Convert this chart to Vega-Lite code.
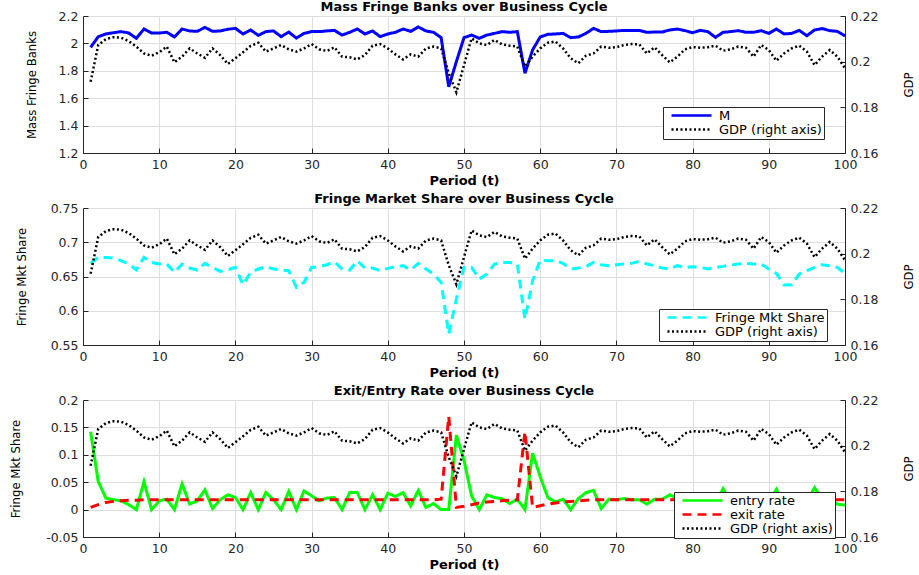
{
"$schema": "https://vega.github.io/schema/vega-lite/v6.json",
"background": "white",
"padding": {"left": 8, "top": 0, "right": 0, "bottom": 0},
"spacing": 55,
"bounds": "flush",
"datasets": {"d": [
{"t":1,"M":1.971,"GDP":0.1912,"share":0.6692,"entry":0.142,"exit":0.004},
{"t":2,"M":2.049,"GDP":0.2073,"share":0.6779,"entry":0.051,"exit":0.009},
{"t":3,"M":2.069,"GDP":0.2099,"share":0.6779,"entry":0.021,"exit":0.013},
{"t":4,"M":2.078,"GDP":0.2107,"share":0.677,"entry":0.018,"exit":0.015},
{"t":5,"M":2.086,"GDP":0.2105,"share":0.6731,"entry":0.016,"exit":0.016},
{"t":6,"M":2.076,"GDP":0.209,"share":0.6682,"entry":0.009,"exit":0.017},
{"t":7,"M":2.037,"GDP":0.2066,"share":0.6599,"entry":0.0,"exit":0.017},
{"t":8,"M":2.105,"GDP":0.2036,"share":0.6779,"entry":0.051,"exit":0.018},
{"t":9,"M":2.076,"GDP":0.2026,"share":0.6706,"entry":0.0,"exit":0.018},
{"t":10,"M":2.076,"GDP":0.2041,"share":0.6682,"entry":0.016,"exit":0.018},
{"t":11,"M":2.081,"GDP":0.2066,"share":0.6682,"entry":0.019,"exit":0.018},
{"t":12,"M":2.047,"GDP":0.1997,"share":0.656,"entry":0.0,"exit":0.018},
{"t":13,"M":2.105,"GDP":0.2022,"share":0.6682,"entry":0.047,"exit":0.018},
{"t":14,"M":2.091,"GDP":0.2058,"share":0.6623,"entry":0.01,"exit":0.018},
{"t":15,"M":2.088,"GDP":0.2036,"share":0.6594,"entry":0.016,"exit":0.018},
{"t":16,"M":2.117,"GDP":0.2017,"share":0.6692,"entry":0.036,"exit":0.018},
{"t":17,"M":2.088,"GDP":0.2058,"share":0.6633,"entry":0.002,"exit":0.018},
{"t":18,"M":2.091,"GDP":0.2029,"share":0.6575,"entry":0.018,"exit":0.018},
{"t":19,"M":2.103,"GDP":0.199,"share":0.6599,"entry":0.027,"exit":0.018},
{"t":20,"M":2.11,"GDP":0.2015,"share":0.6633,"entry":0.022,"exit":0.018},
{"t":21,"M":2.069,"GDP":0.2041,"share":0.638,"entry":0.0,"exit":0.018},
{"t":22,"M":2.098,"GDP":0.2069,"share":0.656,"entry":0.031,"exit":0.018},
{"t":23,"M":2.059,"GDP":0.2083,"share":0.6609,"entry":0.0,"exit":0.018},
{"t":24,"M":2.086,"GDP":0.2044,"share":0.6643,"entry":0.031,"exit":0.018},
{"t":25,"M":2.091,"GDP":0.2058,"share":0.6609,"entry":0.018,"exit":0.018},
{"t":26,"M":2.049,"GDP":0.2073,"share":0.6594,"entry":0.0,"exit":0.018},
{"t":27,"M":2.083,"GDP":0.2054,"share":0.6585,"entry":0.033,"exit":0.018},
{"t":28,"M":2.039,"GDP":0.2044,"share":0.6341,"entry":0.0,"exit":0.018},
{"t":29,"M":2.073,"GDP":0.2058,"share":0.6414,"entry":0.034,"exit":0.018},
{"t":30,"M":2.086,"GDP":0.2077,"share":0.6633,"entry":0.025,"exit":0.018},
{"t":31,"M":2.086,"GDP":0.2054,"share":0.6643,"entry":0.016,"exit":0.018},
{"t":32,"M":2.091,"GDP":0.2047,"share":0.6672,"entry":0.021,"exit":0.018},
{"t":33,"M":2.095,"GDP":0.2063,"share":0.6716,"entry":0.022,"exit":0.018},
{"t":34,"M":2.061,"GDP":0.2022,"share":0.6609,"entry":0.0,"exit":0.018},
{"t":35,"M":2.081,"GDP":0.2019,"share":0.6594,"entry":0.031,"exit":0.018},
{"t":36,"M":2.105,"GDP":0.201,"share":0.6731,"entry":0.031,"exit":0.018},
{"t":37,"M":2.069,"GDP":0.2029,"share":0.6623,"entry":0.0,"exit":0.018},
{"t":38,"M":2.091,"GDP":0.207,"share":0.6623,"entry":0.027,"exit":0.018},
{"t":39,"M":2.049,"GDP":0.2077,"share":0.6585,"entry":0.0,"exit":0.018},
{"t":40,"M":2.069,"GDP":0.2058,"share":0.6619,"entry":0.03,"exit":0.018},
{"t":41,"M":2.081,"GDP":0.2032,"share":0.6643,"entry":0.024,"exit":0.018},
{"t":42,"M":2.105,"GDP":0.201,"share":0.6658,"entry":0.031,"exit":0.018},
{"t":43,"M":2.088,"GDP":0.2032,"share":0.6594,"entry":0.007,"exit":0.018},
{"t":44,"M":2.12,"GDP":0.2022,"share":0.6692,"entry":0.035,"exit":0.018},
{"t":45,"M":2.091,"GDP":0.2058,"share":0.6609,"entry":0.004,"exit":0.018},
{"t":46,"M":2.081,"GDP":0.2066,"share":0.6536,"entry":0.011,"exit":0.018},
{"t":47,"M":2.042,"GDP":0.2058,"share":0.6414,"entry":0.0,"exit":0.019},
{"t":48,"M":1.684,"GDP":0.1949,"share":0.5659,"entry":0.0,"exit":0.17},
{"t":49,"M":1.867,"GDP":0.1866,"share":0.6171,"entry":0.136,"exit":0.004},
{"t":50,"M":2.042,"GDP":0.1985,"share":0.6633,"entry":0.09,"exit":0.006},
{"t":51,"M":2.061,"GDP":0.2102,"share":0.6633,"entry":0.025,"exit":0.009},
{"t":52,"M":2.037,"GDP":0.208,"share":0.6463,"entry":0.0,"exit":0.012},
{"t":53,"M":2.061,"GDP":0.2073,"share":0.6536,"entry":0.027,"exit":0.014},
{"t":54,"M":2.073,"GDP":0.2095,"share":0.6682,"entry":0.022,"exit":0.015},
{"t":55,"M":2.086,"GDP":0.2076,"share":0.6706,"entry":0.02,"exit":0.016},
{"t":56,"M":2.081,"GDP":0.207,"share":0.6706,"entry":0.011,"exit":0.017},
{"t":57,"M":2.086,"GDP":0.2066,"share":0.6682,"entry":0.019,"exit":0.018},
{"t":58,"M":1.782,"GDP":0.1978,"share":0.5878,"entry":0.0,"exit":0.142},
{"t":59,"M":1.952,"GDP":0.2022,"share":0.6438,"entry":0.103,"exit":0.004},
{"t":60,"M":2.047,"GDP":0.2058,"share":0.674,"entry":0.06,"exit":0.007},
{"t":61,"M":2.066,"GDP":0.2083,"share":0.6731,"entry":0.022,"exit":0.01},
{"t":62,"M":2.069,"GDP":0.2088,"share":0.6731,"entry":0.014,"exit":0.012},
{"t":63,"M":2.073,"GDP":0.2058,"share":0.6692,"entry":0.019,"exit":0.014},
{"t":64,"M":2.042,"GDP":0.2015,"share":0.6609,"entry":0.0,"exit":0.015},
{"t":65,"M":2.047,"GDP":0.1993,"share":0.6623,"entry":0.02,"exit":0.016},
{"t":66,"M":2.073,"GDP":0.2026,"share":0.6643,"entry":0.031,"exit":0.017},
{"t":67,"M":2.11,"GDP":0.2036,"share":0.6706,"entry":0.035,"exit":0.018},
{"t":68,"M":2.086,"GDP":0.2066,"share":0.6672,"entry":0.002,"exit":0.018},
{"t":69,"M":2.088,"GDP":0.2061,"share":0.6658,"entry":0.019,"exit":0.018},
{"t":70,"M":2.091,"GDP":0.2063,"share":0.6672,"entry":0.018,"exit":0.018},
{"t":71,"M":2.095,"GDP":0.2073,"share":0.6682,"entry":0.02,"exit":0.018},
{"t":72,"M":2.095,"GDP":0.2077,"share":0.6692,"entry":0.018,"exit":0.018},
{"t":73,"M":2.095,"GDP":0.2076,"share":0.6721,"entry":0.018,"exit":0.018},
{"t":74,"M":2.081,"GDP":0.2036,"share":0.6682,"entry":0.01,"exit":0.018},
{"t":75,"M":2.083,"GDP":0.2063,"share":0.6658,"entry":0.019,"exit":0.018},
{"t":76,"M":2.083,"GDP":0.2029,"share":0.6623,"entry":0.019,"exit":0.018},
{"t":77,"M":2.098,"GDP":0.1997,"share":0.6609,"entry":0.027,"exit":0.018},
{"t":78,"M":2.105,"GDP":0.2022,"share":0.6658,"entry":0.02,"exit":0.018},
{"t":79,"M":2.093,"GDP":0.2054,"share":0.6633,"entry":0.015,"exit":0.018},
{"t":80,"M":2.078,"GDP":0.2064,"share":0.6643,"entry":0.02,"exit":0.018},
{"t":81,"M":2.095,"GDP":0.2061,"share":0.6633,"entry":0.018,"exit":0.018},
{"t":82,"M":2.086,"GDP":0.2063,"share":0.6609,"entry":0.02,"exit":0.018},
{"t":83,"M":2.044,"GDP":0.207,"share":0.6633,"entry":0.01,"exit":0.018},
{"t":84,"M":2.081,"GDP":0.2048,"share":0.6648,"entry":0.038,"exit":0.018},
{"t":85,"M":2.086,"GDP":0.2054,"share":0.6667,"entry":0.012,"exit":0.018},
{"t":86,"M":2.093,"GDP":0.2066,"share":0.6682,"entry":0.02,"exit":0.018},
{"t":87,"M":2.081,"GDP":0.2061,"share":0.6692,"entry":0.018,"exit":0.018},
{"t":88,"M":2.081,"GDP":0.2022,"share":0.6682,"entry":0.005,"exit":0.018},
{"t":89,"M":2.093,"GDP":0.2073,"share":0.6682,"entry":0.022,"exit":0.018},
{"t":90,"M":2.073,"GDP":0.2051,"share":0.6609,"entry":0.015,"exit":0.018},
{"t":91,"M":2.105,"GDP":0.2004,"share":0.6546,"entry":0.037,"exit":0.018},
{"t":92,"M":2.069,"GDP":0.2036,"share":0.6375,"entry":0.005,"exit":0.018},
{"t":93,"M":2.073,"GDP":0.2058,"share":0.638,"entry":0.01,"exit":0.018},
{"t":94,"M":2.095,"GDP":0.207,"share":0.6536,"entry":0.02,"exit":0.018},
{"t":95,"M":2.056,"GDP":0.2044,"share":0.6585,"entry":0.015,"exit":0.018},
{"t":96,"M":2.098,"GDP":0.1985,"share":0.6633,"entry":0.04,"exit":0.018},
{"t":97,"M":2.108,"GDP":0.2022,"share":0.6672,"entry":0.02,"exit":0.018},
{"t":98,"M":2.093,"GDP":0.2051,"share":0.6658,"entry":0.018,"exit":0.018},
{"t":99,"M":2.088,"GDP":0.2022,"share":0.6633,"entry":0.01,"exit":0.018},
{"t":100,"M":2.054,"GDP":0.1971,"share":0.6546,"entry":0.008,"exit":0.018}
]},
"resolve": {"scale": {"color": "independent", "strokeDash": "independent"}, "legend": {"color": "independent", "strokeDash": "independent"}},
"vconcat": [
{
 "width": 762, "height": 137,
 "title": {"text": "Mass Fringe Banks over Business Cycle"},
 "data": {"name": "d"},
 "encoding": {"x": {"field": "t", "type": "quantitative", "scale": {"domain": [0, 100], "nice": false}, "axis": {"title": "Period (t)", "values": [0,10,20,30,40,50,60,70,80,90,100]}}},
 "layer": [
  {"mark": {"type": "line", "strokeWidth": 3},
   "encoding": {
    "y": {"field": "M", "type": "quantitative", "scale": {"domain": [1.2, 2.2], "nice": false, "zero": false}, "axis": {"title": "Mass Fringe Banks", "values": [1.2,1.4,1.6,1.8,2,2.2], "format": "~g", "titleX": -52}},
    "color": {"datum": "M", "scale": {"domain": ["M", "GDP (right axis)"], "range": ["#0000ff", "#000000"]}, "legend": {"title": null, "orient": "none", "legendX": 580, "legendY": 91}},
    "strokeDash": {"datum": "M", "scale": {"domain": ["M", "GDP (right axis)"], "range": [[1,0],[2,2.5]]}, "legend": {"title": null, "orient": "none", "legendX": 580, "legendY": 91}}
   }},
  {"mark": {"type": "line", "strokeWidth": 2.5},
   "encoding": {
    "y": {"field": "GDP", "type": "quantitative", "scale": {"domain": [0.16, 0.22], "nice": false, "zero": false}, "axis": {"title": "GDP", "orient": "right", "grid": false, "values": [0.16,0.18,0.2,0.22], "format": "~g", "titleX": 63, "titleAngle": 270}},
    "color": {"datum": "GDP (right axis)"},
    "strokeDash": {"datum": "GDP (right axis)"}
   }}
 ],
 "resolve": {"scale": {"y": "independent"}}
},
{
 "width": 762, "height": 137,
 "title": {"text": "Fringe Market Share over Business Cycle"},
 "data": {"name": "d"},
 "encoding": {"x": {"field": "t", "type": "quantitative", "scale": {"domain": [0, 100], "nice": false}, "axis": {"title": "Period (t)", "values": [0,10,20,30,40,50,60,70,80,90,100]}}},
 "layer": [
  {"mark": {"type": "line", "strokeWidth": 3},
   "encoding": {
    "y": {"field": "share", "type": "quantitative", "scale": {"domain": [0.55, 0.75], "nice": false, "zero": false}, "axis": {"title": "Fringe Mkt Share", "values": [0.55,0.6,0.65,0.7,0.75], "format": "~g", "titleX": -62}},
    "color": {"datum": "Fringe Mkt Share", "scale": {"domain": ["Fringe Mkt Share", "GDP (right axis)"], "range": ["#00ffff", "#000000"]}, "legend": {"title": null, "orient": "none", "legendX": 576, "legendY": 101}},
    "strokeDash": {"datum": "Fringe Mkt Share", "scale": {"domain": ["Fringe Mkt Share", "GDP (right axis)"], "range": [[9,6],[2,2.5]]}, "legend": {"title": null, "orient": "none", "legendX": 576, "legendY": 101}}
   }},
  {"mark": {"type": "line", "strokeWidth": 2.5},
   "encoding": {
    "y": {"field": "GDP", "type": "quantitative", "scale": {"domain": [0.16, 0.22], "nice": false, "zero": false}, "axis": {"title": "GDP", "orient": "right", "grid": false, "values": [0.16,0.18,0.2,0.22], "format": "~g", "titleX": 63, "titleAngle": 270}},
    "color": {"datum": "GDP (right axis)"},
    "strokeDash": {"datum": "GDP (right axis)"}
   }}
 ],
 "resolve": {"scale": {"y": "independent"}}
},
{
 "width": 762, "height": 137,
 "title": {"text": "Exit/Entry Rate over Business Cycle"},
 "data": {"name": "d"},
 "encoding": {"x": {"field": "t", "type": "quantitative", "scale": {"domain": [0, 100], "nice": false}, "axis": {"title": "Period (t)", "values": [0,10,20,30,40,50,60,70,80,90,100]}}},
 "layer": [
  {"mark": {"type": "line", "strokeWidth": 3},
   "encoding": {
    "y": {"field": "entry", "type": "quantitative", "scale": {"domain": [-0.05, 0.2], "nice": false, "zero": false}, "axis": {"title": "Fringe Mkt Share", "values": [-0.05,0,0.05,0.1,0.15,0.2], "format": "~g", "labelExpr": "replace(datum.label, '−', '-')", "titleX": -68}},
    "color": {"datum": "entry rate", "scale": {"domain": ["entry rate", "exit rate", "GDP (right axis)"], "range": ["#00ff00", "#ff0000", "#000000"]}, "legend": {"title": null, "orient": "none", "legendX": 591, "legendY": 92}},
    "strokeDash": {"datum": "entry rate", "scale": {"domain": ["entry rate", "exit rate", "GDP (right axis)"], "range": [[1,0],[9,6],[2,2.5]]}, "legend": {"title": null, "orient": "none", "legendX": 591, "legendY": 92}}
   }},
  {"mark": {"type": "line", "strokeWidth": 3},
   "encoding": {
    "y": {"field": "exit", "type": "quantitative", "scale": {"domain": [-0.05, 0.2], "nice": false, "zero": false}, "axis": null},
    "color": {"datum": "exit rate"},
    "strokeDash": {"datum": "exit rate"}
   }},
  {"mark": {"type": "line", "strokeWidth": 2.5},
   "encoding": {
    "y": {"field": "GDP", "type": "quantitative", "scale": {"domain": [0.16, 0.22], "nice": false, "zero": false}, "axis": {"title": "GDP", "orient": "right", "grid": false, "values": [0.16,0.18,0.2,0.22], "format": "~g", "titleX": 63, "titleAngle": 270}},
    "color": {"datum": "GDP (right axis)"},
    "strokeDash": {"datum": "GDP (right axis)"}
   }}
 ],
 "resolve": {"scale": {"y": "independent"}}
}
],
"config": {
 "view": {"stroke": "#262626", "strokeWidth": 1},
 "title": {"font": "DejaVu Sans", "fontSize": 13, "fontWeight": "bold", "color": "#000000", "offset": -4},
 "axis": {"labelFont": "DejaVu Sans", "labelFontSize": 12.5, "labelColor": "#262626", "domainColor": "#262626", "tickColor": "#262626", "ticks": true, "tickSize": -5, "gridColor": "#dedede", "gridOpacity": 1, "labelPadding": 10, "titleColor": "#000000"},
 "axisX": {"titleFont": "DejaVu Sans", "titleFontSize": 13, "titleFontWeight": "bold", "titlePadding": 4, "labelFlush": false},
 "axisY": {"titleFont": "DejaVu Sans Condensed, Liberation Sans, Arial, sans-serif", "titleFontSize": 13, "titleFontWeight": "normal", "titleBaseline": "middle", "titleAngle": 270},
 "legend": {"symbolType": "M0,0H8", "symbolSize": 100, "symbolStrokeWidth": 2.5, "labelFont": "DejaVu Sans", "labelFontSize": 13, "labelColor": "#000000", "labelOffset": 41, "strokeColor": "#262626", "fillColor": "#ffffff", "padding": 2, "rowPadding": 0, "cornerRadius": 0}
}
}
